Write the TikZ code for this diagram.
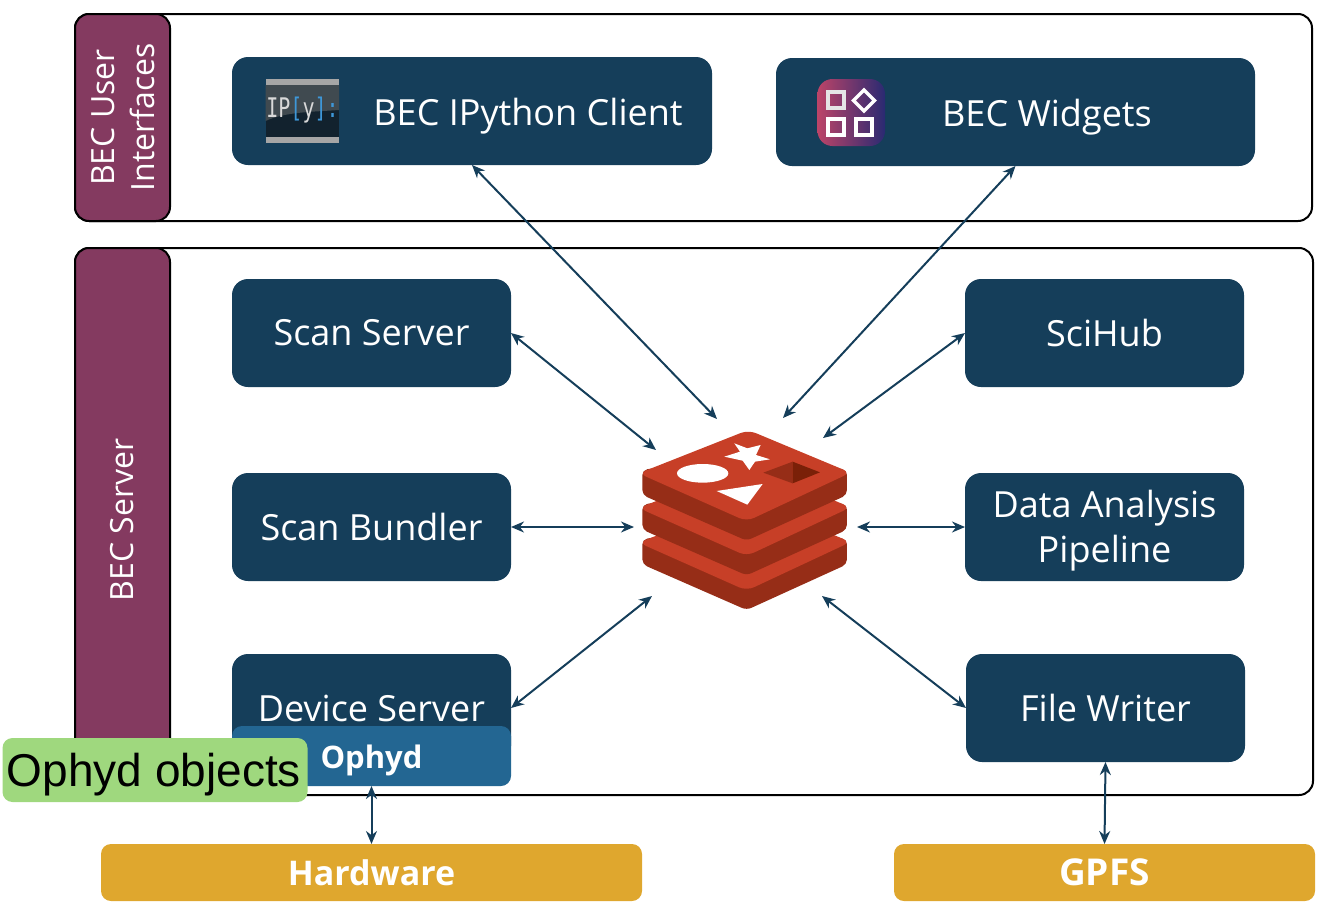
\documentclass[tikz,border=0pt]{standalone}
\usepackage{fontspec}
\setmainfont{Open Sans}
\newfontfamily\helv{Liberation Sans}
\newfontfamily\monoicon{DejaVu Sans Mono}
\usetikzlibrary{arrows.meta}
\definecolor{boxblue}{HTML}{153E5A}
\definecolor{ophydblue}{HTML}{236692}
\definecolor{tabpurple}{HTML}{843A60}
\definecolor{objgreen}{HTML}{9FD87E}
\definecolor{storegold}{HTML}{DFA72E}
\definecolor{redislight}{HTML}{C73F27}
\definecolor{redisdark}{HTML}{962D17}
\definecolor{redispit}{HTML}{7A2008}
\definecolor{iconblue}{HTML}{3E97D8}
\definecolor{iconpink}{HTML}{BC4468}
\definecolor{iconnavy}{HTML}{2A2A72}
\definecolor{iconlow}{HTML}{12222E}
\definecolor{iconhigh}{HTML}{404A50}
\begin{document}
\begin{tikzpicture}[x=1pt,y=-1pt,
    panel node/.style={draw=black,line width=2pt,rounded corners=14pt,inner sep=0pt,outer sep=0pt},
    tab node/.style={panel node,fill=tabpurple,minimum width=95pt},
    main node/.style={fill=boxblue,text=white,rounded corners=16pt,inner sep=0pt,outer sep=0pt,minimum height=108pt,font=\fontsize{36}{45}\selectfont,align=center},
    store node/.style={fill=storegold,text=white,rounded corners=10pt,inner sep=0pt,outer sep=0pt,minimum height=57pt,font=\fontsize{34}{40}\selectfont\bfseries},
    link/.style={<->,>={Stealth[length=13pt,width=11pt]},draw=boxblue,line width=2pt}]
    \useasboundingbox (0,0) rectangle (1327,913);
    % panels and their tabs
    \node[panel node,minimum width=1237pt,minimum height=207pt] (userpanel) at (693.5,117.5) {};
    \node[panel node,minimum width=1238pt,minimum height=547pt] (serverpanel) at (694,521.5) {};
    \node[tab node,minimum height=207pt] (usertab) at (122.5,117.5) {};
    \node[tab node,minimum height=547pt] (servertab) at (122.5,521.5) {};
    \node[rotate=90,text=white,align=center,font=\fontsize{32}{40}\selectfont] (usertext) at (123,117.5) {BEC User\\Interfaces};
    \node[rotate=90,text=white,font=\fontsize{32}{40}\selectfont] (servertext) at (122,520) {BEC Server};
    % boxes
    \node[main node,minimum width=480pt] (client) at (472,111) {};
    \node[main node,minimum width=479pt] (widgets) at (1015.5,112) {};
    \node[text=white,font=\fontsize{36}{40}\selectfont] (clienttext) at (528,116) {BEC IPython Client};
    \node[text=white,font=\fontsize{36}{40}\selectfont] (widgetstext) at (1047,117) {BEC Widgets};
    \node[main node,minimum width=279pt] (scanserver) at (371.5,333) {Scan Server};
    \node[main node,minimum width=279pt] (scihub) at (1104.5,333) {SciHub};
    \node[main node,minimum width=279pt] (bundler) at (371.5,527) {Scan Bundler};
    \node[main node,minimum width=279pt] (analysis) at (1104.5,527) {};
    \node[text=white,align=center,font=\fontsize{36}{45}\selectfont] (analysistext) at (1104.5,531) {Data Analysis\\Pipeline};
    \node[main node,minimum width=279pt] (device) at (371.5,708) {Device Server};
    \node[main node,minimum width=279pt] (writer) at (1105.5,708) {File Writer};
    \node[fill=ophydblue,rounded corners=10pt,inner sep=0pt,outer sep=0pt,minimum width=279pt,minimum height=60pt] (ophyd) at (371.5,756) {};
    \node[text=white,font=\fontsize{31}{34}\selectfont\bfseries] (ophydtext) at (371.5,760) {Ophyd};
    \node[store node,minimum width=541pt] (hardware) at (371.5,872.5) {Hardware};
    \node[store node,minimum width=421pt,font=\fontsize{37}{40}\selectfont\bfseries] (gpfs) at (1104.5,872.5) {GPFS};
    % ipython icon
    \fill[iconlow] (265.5,85) rectangle (339,137);
    \fill[iconhigh] (265.5,85) -- (339,85) -- (339,110) .. controls (310,112) and (285,112) .. (265.5,121) -- cycle;
    \fill[gray!70] (265.5,79) rectangle (339,85);
    \fill[gray!70] (265.5,137) rectangle (339,143);
    \node[inner sep=0pt,yscale=1.35,transform shape,font=\monoicon\fontsize{20}{24}\selectfont,text=white!85!black] (icontext) at (302.5,110) {IP\textcolor{iconblue}{[}y\textcolor{iconblue}{]:}};
    % widgets icon
    \shade[left color=iconpink,right color=iconnavy,rounded corners=15pt] (817.5,79) rectangle (885,146);
    \draw[white!90!black,line width=3.5pt] (828,92) rectangle (844,108);
    \draw[white,line width=3.5pt] (864,90) -- (874.5,100.5) -- (864,111) -- (853.5,100.5) -- cycle;
    \draw[white,line width=3.5pt] (828,119) rectangle (844,135);
    \draw[white,line width=3.5pt] (856,119) rectangle (872,135);
    % redis logo
    \begin{scope}[shift={(630,420)},x=0.3333pt,y=-0.3333pt]
        \foreach \dy in {208,104,0} {
            \begin{scope}[yshift=-\dy*0.3333pt]
                \fill[redisdark,rounded corners=5pt] (37,150) -- (37,225) -- (350,362) -- (651,225) -- (651,150) -- (355,100) -- cycle;
                \fill[redislight,rounded corners=8pt] (355,30) -- (662,158) -- (350,304) -- (26,160) -- cycle;
            \end{scope}
        }
        \fill[white] (218,160) ellipse [x radius=77,y radius=28];
        \fill[white] (313,70) -- (352,85) -- (392,75) -- (378,105) -- (420,118) -- (375,125) -- (358,150) -- (338,122) -- (283,110) -- (330,95) -- cycle;
        \fill[white] (260,213) -- (398,192) -- (352,254) -- cycle;
        \fill[redisdark] (400,158) -- (488,125) -- (488,190) -- cycle;
        \fill[redispit] (488,125) -- (570,157) -- (488,190) -- cycle;
    \end{scope}
    \coordinate (rediszero) at (717,419);
    \coordinate (redisone) at (783,418);
    \coordinate (redistwo) at (656,450);
    \coordinate (redisthree) at (823,438);
    \coordinate (redisfour) at (634,527);
    \coordinate (redisfive) at (857,527);
    \coordinate (redissix) at (652,596);
    \coordinate (redisseven) at (822,596);
    % connectors
    \draw[link] (client.south) -- (rediszero);
    \draw[link] (widgets.south) -- (redisone);
    \draw[link] (scanserver.east) -- (redistwo);
    \draw[link] (scihub.west) -- (redisthree);
    \draw[link] (bundler.east) -- (redisfour);
    \draw[link] (analysis.west) -- (redisfive);
    \draw[link] (device.east) -- (redissix);
    \draw[link] (writer.west) -- (redisseven);
    \draw[link] (ophyd.south) -- (hardware.north);
    \draw[link] (writer.south) -- (gpfs.north);
    % label on top
    \node[fill=objgreen,rounded corners=10pt,inner sep=0pt,outer sep=0pt,minimum width=305pt,minimum height=64pt] (objects) at (155,770) {};
    \node[text=black,inner sep=0pt,font=\helv\fontsize{46}{48}\selectfont] (objectstext) at (154,775) {Ophyd objects};
\end{tikzpicture}
\end{document}
